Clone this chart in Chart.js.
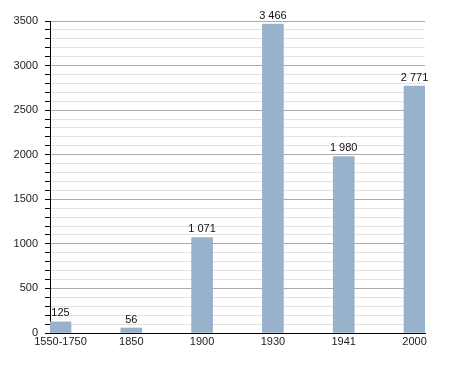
<!DOCTYPE html>
<html>
<head>
<meta charset="utf-8">
<script src="https://cdn.jsdelivr.net/npm/chart.js@4"></script>
<style>
  html, body { margin: 0; padding: 0; background: #fff; }
  #wrap { width: 455px; height: 373px; }
</style>
</head>
<body>
<div id="wrap"><canvas id="pop"></canvas></div>
<script>
// population by year
const years = ["1550-1750", "1850", "1900", "1930", "1941", "2000"];
const population = [125, 56, 1071, 3466, 1980, 2771];
const yMax = 3500;

// thousands separated by a space, like the original
const fmt = (v) => String(v).replace(/\B(?=(\d{3})+(?!\d))/g, " ");

// draws the value above each bar
const valueLabels = {
  id: "valueLabels",
  afterDatasetsDraw(chart) {
    const ctx = chart.ctx;
    const meta = chart.getDatasetMeta(0);
    ctx.save();
    ctx.font = "11px 'Liberation Sans', Arial, sans-serif";
    ctx.fillStyle = "#111";
    ctx.textAlign = "center";
    ctx.textBaseline = "bottom";
    meta.data.forEach((bar, i) => {
      ctx.fillText(fmt(population[i]), bar.x, bar.y - 3);
    });
    ctx.restore();
  },
};

Chart.defaults.font.family = "'Liberation Sans', Arial, sans-serif";
Chart.defaults.font.size = 11;
Chart.defaults.color = "#222";

const ctx = document.getElementById("pop");
new Chart(ctx, {
  type: "bar",
  data: {
    datasets: [
      {
        data: population.map((v, i) => ({ x: i, y: v })),
        backgroundColor: "#98b2cc",
        barThickness: 21,
      },
    ],
  },
  options: {
    responsive: true,
    maintainAspectRatio: false,
    animation: false,
    layout: { padding: { left: 0, right: 30, top: 21, bottom: 0 } },
    plugins: {
      legend: { display: false },
      tooltip: { enabled: false },
    },
    scales: {
      x: {
        type: "linear",
        offset: false,
        min: -0.148,
        max: years.length - 1 + 0.148,
        afterBuildTicks: (scale) => {
          scale.ticks = years.map((_, i) => ({ value: i }));
        },
        afterFit: (scale) => {
          scale.height = 40;
        },
        ticks: {
          autoSkip: false,
          maxRotation: 0,
          padding: 2,
          callback: (value) => years[value],
        },
        grid: { display: false, drawTicks: false, offset: false },
        border: { display: true, color: "#000", width: 1 },
      },
      y: {
        min: 0,
        max: yMax,
        afterFit: (scale) => {
          scale.width = 50;
        },
        ticks: {
          stepSize: 100,
          autoSkip: false,
          maxTicksLimit: 100,
          padding: 7,
          callback: (value) => (value % 500 === 0 ? value : ""),
        },
        grid: {
          color: (c) => (c.tick.value % 500 === 0 ? "#aaaaaa" : "#e2e2e2"),
          tickColor: "#000",
          tickLength: 5,
        },
        border: { display: true, color: "#000", width: 1 },
      },
    },
  },
  plugins: [valueLabels],
});
</script>
</body>
</html>
